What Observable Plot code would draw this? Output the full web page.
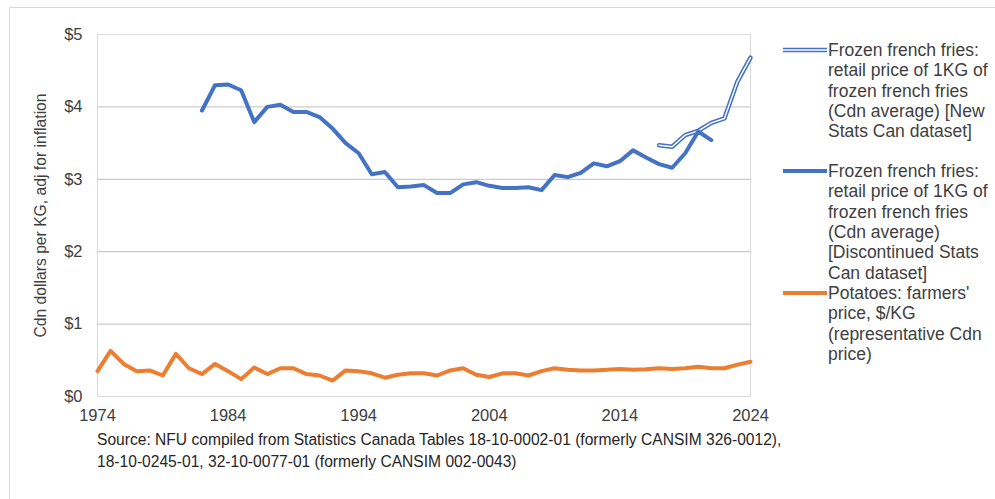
<!DOCTYPE html>
<html>
<head>
<meta charset="utf-8">
<script src="https://cdn.jsdelivr.net/npm/d3@7"></script>
<script src="https://cdn.jsdelivr.net/npm/@observablehq/plot@0.6"></script>
<style>
  html, body { margin: 0; padding: 0; background: #fff; }
  body { font-family: "Liberation Sans", Arial, sans-serif; color: #404040; }
  #wrap { position: relative; width: 995px; height: 499px; overflow: hidden; }
  #border { position: absolute; left: 9px; top: 7px; width: 1200px; height: 800px; border: 1px solid #d9d9d9; box-sizing: border-box; }
  #chart { position: absolute; left: 0; top: 0; }
  .leg { position: absolute; left: 783px; font-size: 17.5px; line-height: 20.35px; color: #404040; }
  .leg svg { position: absolute; left: 0; top: 4px; }
  .leg .t { position: absolute; left: 45px; top: 0; white-space: nowrap; }
  #caption { position: absolute; left: 97px; top: 429px; font-size: 15.6px; line-height: 22px; color: #262626; white-space: nowrap; }
</style>
</head>
<body>
<div id="wrap">
  <div id="border"></div>
  <div id="chart"></div>
  <div class="leg" style="top:40px">
    <svg width="44" height="14"><line x1="0" x2="44" y1="6" y2="6" stroke="#4472C4" stroke-width="4.5"/><line x1="0" x2="44" y1="6" y2="6" stroke="#fff" stroke-width="1.4"/></svg>
    <div class="t" id="leg1"></div>
  </div>
  <div class="leg" style="top:161px">
    <svg width="44" height="14"><line x1="0" x2="44" y1="6" y2="6" stroke="#4472C4" stroke-width="4"/></svg>
    <div class="t" id="leg2"></div>
  </div>
  <div class="leg" style="top:283px">
    <svg width="44" height="14"><line x1="0" x2="44" y1="6" y2="6" stroke="#ED7D31" stroke-width="4"/></svg>
    <div class="t" id="leg3"></div>
  </div>
  <div id="caption"></div>
</div>
<script>
// ---- Data ----
const potatoYears = d3.range(1974, 2025);
const potatoPrice = [
  0.35, 0.63, 0.45, 0.35, 0.36, 0.29, 0.59, 0.39, 0.31, 0.45,
  0.35, 0.24, 0.40, 0.31, 0.39, 0.39, 0.31, 0.29, 0.22, 0.36,
  0.35, 0.32, 0.26, 0.30, 0.32, 0.32, 0.29, 0.36, 0.39, 0.30,
  0.27, 0.32, 0.32, 0.29, 0.35, 0.39, 0.37, 0.36, 0.36, 0.37,
  0.38, 0.37, 0.375, 0.39, 0.38, 0.39, 0.41, 0.39, 0.39, 0.44, 0.48
];
const oldFriesYears = d3.range(1982, 2022);
const oldFriesPrice = [
  3.95, 4.30, 4.31, 4.23, 3.79, 4.00, 4.03, 3.93, 3.93, 3.86,
  3.70, 3.50, 3.36, 3.07, 3.10, 2.89, 2.90, 2.92, 2.81, 2.81,
  2.93, 2.96, 2.91, 2.88, 2.88, 2.89, 2.85, 3.06, 3.03, 3.09,
  3.22, 3.18, 3.25, 3.40, 3.30, 3.21, 3.16, 3.36, 3.66, 3.54
];
const newFriesYears = d3.range(2017, 2025);
const newFriesPrice = [3.47, 3.45, 3.61, 3.67, 3.78, 3.84, 4.35, 4.68];

const xTicks = [1974, 1984, 1994, 2004, 2014, 2024];
const yTicks = [0, 1, 2, 3, 4, 5];
const yGrid = [1, 2, 3, 4];
const yLabel = "Cdn dollars per KG, adj for inflation";
const legendLabels = [
  ["Frozen french fries:", "retail price of 1KG of", "frozen french fries", "(Cdn average) [New", "Stats Can dataset]"],
  ["Frozen french fries:", "retail price of 1KG of", "frozen french fries", "(Cdn average)", "[Discontinued Stats", "Can dataset]"],
  ["Potatoes: farmers'", "price, $/KG", "(representative Cdn", "price)"]
];
const captionLines = [
  "Source: NFU compiled from Statistics Canada Tables 18-10-0002-01 (formerly CANSIM 326-0012),",
  "18-10-0245-01, 32-10-0077-01 (formerly CANSIM 002-0043)"
];

// ---- Tables ----
const potato = potatoYears.map((y, i) => ({year: y, v: potatoPrice[i]}));
const oldFries = oldFriesYears.map((y, i) => ({year: y, v: oldFriesPrice[i]}));
const newFries = newFriesYears.map((y, i) => ({year: y, v: newFriesPrice[i]}));

const chart = Plot.plot({
  width: 995,
  height: 430,
  marginLeft: 97,
  marginRight: 245,
  marginTop: 34,
  marginBottom: 34,
  style: {fontFamily: "'Liberation Sans', Arial, sans-serif", fontSize: "16.5px", color: "#404040", background: "transparent"},
  x: {domain: [1974, 2024]},
  y: {domain: [0, 5]},
  marks: [
    Plot.ruleY(yGrid, {stroke: "#bfbfbf", strokeWidth: 1}),
    Plot.frame({stroke: "#d9d9d9", strokeWidth: 1}),
    Plot.axisX({ticks: xTicks, tickFormat: d => String(d), tickSize: 0, tickPadding: 13, label: null, fontSize: 16.5}),
    Plot.axisY({ticks: yTicks, tickFormat: d => "$" + d, tickSize: 0, tickPadding: 15, label: null, fontSize: 16.5}),
    Plot.axisY({ticks: [], tickSize: 0, label: yLabel, labelAnchor: "center", labelArrow: "none", labelOffset: 63, fontSize: 15.7}),
    Plot.line(potato, {x: "year", y: "v", stroke: "#ED7D31", strokeWidth: 4, strokeLinejoin: "round"}),
    Plot.line(newFries, {x: "year", y: "v", stroke: "#4472C4", strokeWidth: 4.5, strokeLinejoin: "round"}),
    Plot.line(newFries, {x: "year", y: "v", stroke: "#fff", strokeWidth: 1.4, strokeLinejoin: "round"}),
    Plot.line(oldFries, {x: "year", y: "v", stroke: "#4472C4", strokeWidth: 4, strokeLinejoin: "round"})
  ]
});
document.getElementById("chart").append(chart);

["leg1", "leg2", "leg3"].forEach((id, i) => {
  document.getElementById(id).innerHTML = legendLabels[i].map(s => s.replace(/&/g, "&amp;")).join("<br>");
});
document.getElementById("caption").innerHTML = captionLines.join("<br>");
</script>
</body>
</html>
